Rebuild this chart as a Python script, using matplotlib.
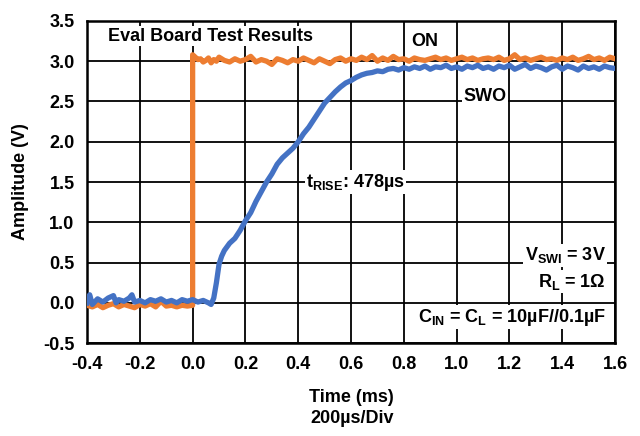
import matplotlib
matplotlib.use("Agg")
import matplotlib.pyplot as plt
import numpy as np

plt.rcParams["font.family"] = ["Liberation Sans", "DejaVu Sans"]
plt.rcParams["font.weight"] = "bold"
plt.rcParams["mathtext.fontset"] = "custom"
plt.rcParams["mathtext.rm"] = "Liberation Sans:bold"
plt.rcParams["mathtext.bf"] = "Liberation Sans:bold"
plt.rcParams["mathtext.it"] = "Liberation Sans:bold"

# ON signal (orange)
on_t = [-0.40, -0.38, -0.36, -0.34, -0.32, -0.30, -0.28, -0.26, -0.24, -0.22,
        -0.20, -0.18, -0.16, -0.14, -0.12, -0.10, -0.08, -0.06, -0.04, -0.02,
        0.00, 0.00, 0.01, 0.02, 0.03, 0.04, 0.05, 0.06, 0.07, 0.08, 0.09, 0.10,
        0.12, 0.14, 0.16, 0.18, 0.20, 0.22, 0.24, 0.26, 0.28, 0.30,
        0.32, 0.34, 0.36, 0.38, 0.40, 0.42, 0.44, 0.46, 0.48, 0.50,
        0.52, 0.54, 0.56, 0.58, 0.60, 0.62, 0.64, 0.66, 0.68, 0.70,
        0.72, 0.74, 0.76, 0.78, 0.80, 0.82, 0.84, 0.86, 0.88, 0.90,
        0.92, 0.94, 0.96, 0.98, 1.00, 1.02, 1.04, 1.06, 1.08, 1.10,
        1.12, 1.14, 1.16, 1.18, 1.20, 1.22, 1.24, 1.26, 1.28, 1.30,
        1.32, 1.34, 1.36, 1.38, 1.40, 1.42, 1.44, 1.46, 1.48, 1.50,
        1.52, 1.54, 1.56, 1.58, 1.60]
on_v = [-0.03, -0.05, -0.02, -0.06, -0.03, -0.01, -0.05, -0.02, -0.04, -0.06,
        -0.02, -0.04, -0.01, -0.05, 0.02, -0.04, -0.03, -0.05, -0.03, -0.04,
        -0.03, 3.08, 3.05, 3.02, 3.03, 2.99, 3.01, 3.04, 2.98, 3.02, 3.00, 3.05,
        3.01, 2.99, 3.03, 3.00, 3.02, 3.06, 2.99, 3.02, 3.00, 2.96,
        3.03, 3.01, 2.98, 3.02, 3.00, 3.04, 3.01, 2.98, 3.03, 3.00,
        2.97, 3.02, 3.04, 3.00, 3.03, 3.01, 3.05, 3.02, 3.07, 3.00,
        3.04, 3.01, 3.06, 3.02, 3.03, 3.00, 3.04, 3.02, 3.01, 3.03,
        3.05, 3.02, 3.04, 3.01, 3.03, 3.05, 3.02, 3.04, 3.01, 3.03,
        3.04, 3.02, 3.05, 3.01, 3.03, 3.08, 3.02, 3.04, 3.01, 3.03,
        3.05, 3.02, 3.03, 3.01, 3.04, 3.02, 3.05, 3.01, 3.03, 3.06,
        3.02, 3.04, 3.01, 3.05, 3.03]

# SWO signal (blue)
swo_t = [-0.40, -0.39, -0.38, -0.36, -0.34, -0.32, -0.30, -0.29, -0.28, -0.26,
         -0.24, -0.23, -0.22, -0.20, -0.18, -0.16, -0.14, -0.12, -0.10, -0.08,
         -0.06, -0.04, -0.02, 0.00, 0.02, 0.04, 0.06, 0.07, 0.08, 0.09,
         0.10, 0.11, 0.12, 0.14, 0.16, 0.18, 0.20, 0.22, 0.24, 0.26,
         0.28, 0.30, 0.32, 0.34, 0.36, 0.38, 0.40, 0.42, 0.44, 0.46,
         0.48, 0.50, 0.52, 0.54, 0.56, 0.58, 0.60, 0.62, 0.64, 0.66,
         0.68, 0.70, 0.72, 0.74, 0.76, 0.78, 0.80, 0.82, 0.84, 0.86,
         0.88, 0.90, 0.92, 0.94, 0.96, 0.98, 1.00, 1.02, 1.04, 1.06,
         1.08, 1.10, 1.12, 1.14, 1.16, 1.18, 1.20, 1.22, 1.24, 1.26,
         1.28, 1.30, 1.32, 1.34, 1.36, 1.38, 1.40, 1.42, 1.44, 1.46,
         1.48, 1.50, 1.52, 1.54, 1.56, 1.58, 1.60]
swo_v = [0.00, 0.10, -0.02, 0.05, 0.01, 0.06, 0.09, 0.00, 0.04, 0.02,
         0.06, 0.10, 0.01, 0.03, 0.00, 0.04, 0.02, 0.05, 0.01, 0.03,
         0.00, 0.04, 0.02, 0.04, 0.01, 0.03, 0.00, -0.02, 0.06, 0.25,
         0.48, 0.58, 0.65, 0.74, 0.80, 0.90, 1.02, 1.12, 1.26, 1.38,
         1.50, 1.60, 1.72, 1.80, 1.86, 1.92, 2.00, 2.10, 2.18, 2.28,
         2.38, 2.48, 2.55, 2.62, 2.68, 2.73, 2.76, 2.80, 2.83, 2.85,
         2.86, 2.88, 2.87, 2.90, 2.91, 2.89, 2.92, 2.90, 2.93, 2.91,
         2.94, 2.90, 2.93, 2.92, 2.95, 2.91, 2.93, 2.90, 2.94, 2.92,
         2.95, 2.91, 2.93, 2.90, 2.94, 2.92, 2.95, 2.90, 2.93, 2.96,
         2.91, 2.94, 2.92, 2.89, 2.93, 2.95, 2.90, 2.94, 2.92, 2.89,
         2.94, 2.91, 2.93, 2.90, 2.94, 2.92, 2.91]

xticks = [-0.4, -0.2, 0.0, 0.2, 0.4, 0.6, 0.8, 1.0, 1.2, 1.4, 1.6]
yticks = [-0.5, 0.0, 0.5, 1.0, 1.5, 2.0, 2.5, 3.0, 3.5]

fs = 13

fig = plt.figure(figsize=(6.4, 4.36), dpi=100)
ax = fig.add_axes([0.136, 0.213, 0.825, 0.739])

ax.plot(on_t, on_v, color="#ED7D31", lw=3.8, zorder=3)
ax.plot(swo_t, swo_v, color="#4472C4", lw=3.8, zorder=4)

ax.set_xlim(-0.4, 1.6)
ax.set_ylim(-0.5, 3.5)
ax.set_xticks(xticks)
ax.set_yticks(yticks)
ax.set_xticklabels(["%.1f" % v for v in xticks], fontsize=fs, fontweight="bold")
ax.set_yticklabels(["%.1f" % v for v in yticks], fontsize=fs, fontweight="bold")
ax.tick_params(length=0, pad=9)
ax.grid(True, color="black", lw=1.3)
ax.set_axisbelow(True)
for s in ax.spines.values():
    s.set_linewidth(1.8)

ax.set_xlabel("Time (ms)", fontsize=fs, fontweight="bold", labelpad=12)
ax.set_ylabel("Amplitude (V)", fontsize=fs, fontweight="bold", labelpad=10)
fig.text(0.55, 0.04, "200µs/Div", ha="center", va="center", fontsize=fs, fontweight="bold")

box = dict(facecolor="white", edgecolor="none", pad=1.0)
ax.text(0.066, 3.31, "Eval Board Test Results", fontsize=fs, fontweight="bold",
        ha="center", va="center", bbox=box, zorder=5)
ax.text(0.88, 3.24, "ON", fontsize=fs, fontweight="bold", ha="center", va="center", zorder=5)
ax.text(1.108, 2.56, "SWO", fontsize=fs, fontweight="bold", ha="center", va="center",
        bbox=box, zorder=5)
ax.text(0.43, 1.5, r"$\mathbf{t_{RISE}}$: 478µs", fontsize=fs, fontweight="bold",
        ha="left", va="center", bbox=box, zorder=5)
ax.text(1.565, 0.59, r"$\mathbf{V_{SWI}}$ = 3V", fontsize=fs, fontweight="bold",
        ha="right", va="center", bbox=box, zorder=5)
ax.text(1.565, 0.26, r"$\mathbf{R_{L}}$ = 1Ω", fontsize=fs, fontweight="bold",
        ha="right", va="center", bbox=box, zorder=5)
ax.text(1.565, -0.18, r"$\mathbf{C_{IN}}$ = $\mathbf{C_{L}}$ = 10µF//0.1µF", fontsize=fs,
        fontweight="bold", ha="right", va="center", bbox=box, zorder=5)

fig.savefig("out.png", dpi=100)
